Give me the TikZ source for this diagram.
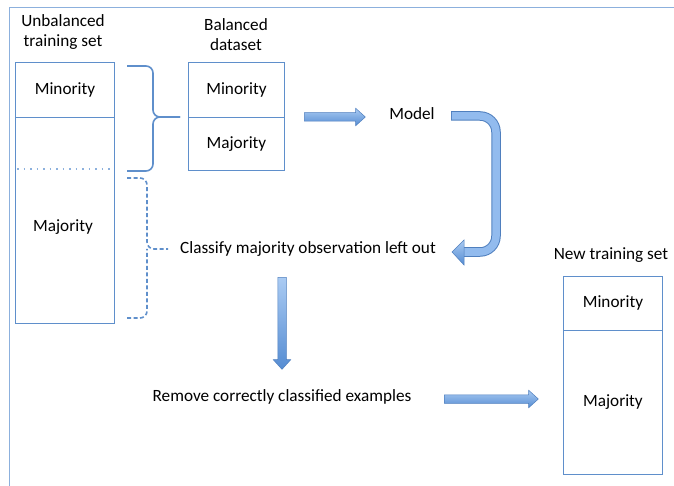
\documentclass[tikz,border=0pt]{standalone}
\usepackage{fontspec}
\setmainfont{Carlito}
\usetikzlibrary{positioning,shapes.arrows,calc}
\definecolor{boxline}{HTML}{5F8FCB}
\definecolor{frameline}{HTML}{8CB0DD}
\definecolor{arrowtop}{HTML}{AACBF3}
\definecolor{arrowbot}{HTML}{558CD2}
\definecolor{arrowedge}{HTML}{4F7FBE}
\definecolor{loopfill}{HTML}{92BBEE}

\begin{document}
\begin{tikzpicture}[
      x=1pt, y=-1pt,
      font=\fontsize{17.2}{20}\selectfont,
      part/.style={draw=boxline, line width=0.9pt, minimum width=99pt,
                   inner sep=0pt, anchor=north west},
      label/.style={align=center, inner sep=1pt},
      block/.style={single arrow, draw=arrowedge, line width=0.5pt,
                    top color=arrowtop, bottom color=arrowbot,
                    inner xsep=0pt, inner ysep=4pt,
                    single arrow head extend=4.5pt, single arrow tip angle=84},
      brace/.style={draw=boxline, line width=1.6pt, rounded corners=7pt},
      dbrace/.style={brace, dashed, dash pattern=on 4pt off 2.5pt}
    ]

    \useasboundingbox (0,0) rectangle (674,486);

    % frame
    \draw[frameline, line width=0.8pt] (9,486) -- (9,7) -- (674,7);

    % unbalanced training set
    \node[label] (unbaltitle) at (63,32) {Unbalanced\\training set};
    \node[part, minimum height=55pt] (unbalmin) at (15,62) {Minority};
    \node[part, minimum height=206pt] (unbalmaj) at (15,117) {};
    \node at (63,227) {Majority};
    \draw[frameline, line width=1.5pt, dash pattern=on 1.5pt off 5pt]
      ($(unbalmaj.north west)+(2,52)$) -- ($(unbalmaj.north east)+(-2,52)$);

    % balanced dataset
    \node[label] (baltitle) at (236,35) {Balanced\\dataset};
    \node[part, minimum width=96pt, minimum height=55pt] (balmin) at (188,62) {Minority};
    \node[part, minimum width=96pt, minimum height=53pt] (balmaj) at (188,117) {Majority};

    % braces
    \coordinate (bA) at (127,66);
    \coordinate (bB) at (127,171);
    \coordinate (bTip) at (180,117);
    \draw[brace] (bA) -- (153,66) -- (153,117) -- (bTip);
    \draw[brace] (bB) -- (153,171) -- (153,117) -- (bTip);
    \coordinate (dA) at (127,178);
    \coordinate (dB) at (127,318);
    \coordinate (dTip) at (168,249);
    \draw[dbrace] (dA) -- (147,178) -- (147,249) -- (dTip);
    \draw[dbrace] (dB) -- (147,318) -- (147,249);

    % model
    \node[block, minimum height=61pt] (toModel) at (332.5,117) {};
    \node[label] (model) at (412,114) {Model};

    \node[label] (classify) at (308,249) {Classify majority observation left out};

    % loop arrow from model back to classify
    \coordinate (loopS) at (451,116);
    \coordinate (loopE) at (463,252);
    \draw[arrowedge, line width=9.5pt, rounded corners=16pt]
      (loopS) -- (496,116) -- (496,252) -- (loopE);
    \draw[loopfill, line width=7.5pt, rounded corners=16pt]
      ($(loopS)+(0.9,0)$) -- (496,116) -- (496,252) -- ($(loopE)+(-0.5,0)$);
    \shade[draw=arrowedge, line width=0.5pt, top color=arrowtop, bottom color=arrowbot]
      (452,252) -- (464,240) -- (464,265) -- cycle;

    % remove step
    \node[block, minimum height=92pt, shape border rotate=270,
          inner xsep=4pt, inner ysep=0pt] (down) at (282,321) {};
    \node[label] (remove) at (282,397) {Remove correctly classified examples};
    \node[block, minimum height=94pt] (toNew) at (489,399) {};

    % new training set
    \node[label] (newtitle) at (611,255) {New training set};
    \node[part, minimum width=99pt, minimum height=54pt] (newmin) at (563,276) {Minority};
    \node[part, minimum width=99pt, minimum height=144pt] (newmaj) at (563,330) {Majority};

  \end{tikzpicture}
\end{document}
